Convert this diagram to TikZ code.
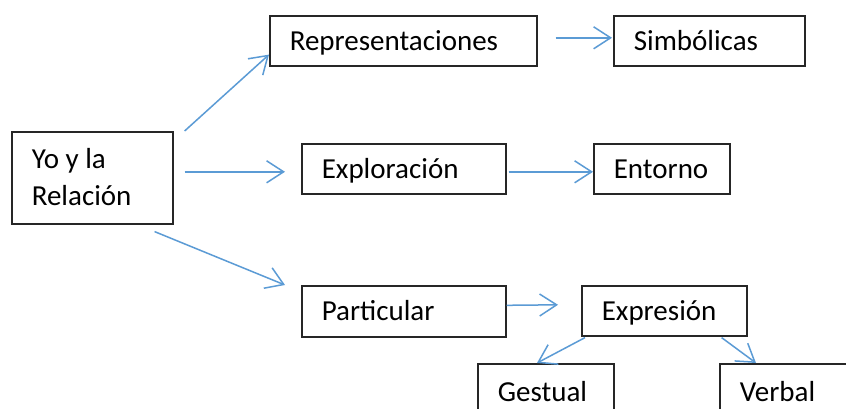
\documentclass[tikz,border=0pt]{standalone}
\usepackage{fontspec}
\setmainfont{Carlito}
\usetikzlibrary{arrows.meta,calc}
\definecolor{arrowblue}{HTML}{5B9BD5}
\begin{document}
\begin{tikzpicture}[x=1pt,y=-1pt,
  box/.style={draw=black!85, line width=1.6pt, anchor=north west, inner xsep=20pt, inner ysep=0pt,
    align=left, font=\fontsize{29}{37}\selectfont, text height=18.5pt, text depth=0pt},
  link/.style={draw=arrowblue, line width=1.5pt,
    -{Straight Barb[length=17pt,width=22pt,line width=1.5pt]}}]
\useasboundingbox (0,0) rectangle (846,408);
\clip (0,0) rectangle (846,408);
\fill[white] (0,0) rectangle (846,408);

\node[box, text width=121pt, minimum height=92pt, text depth=37pt] (yo) at (11,131) {\spaceskip=0pt\relax Yo y la\\Relación};
\node[box, text width=227pt, minimum height=50pt] (rep) at (269,15) {Representaciones};
\node[box, text width=151pt, minimum height=50pt] (sim) at (613,15) {Simbólicas};
\node[box, text width=164pt, minimum height=50pt] (exp) at (301,143) {Exploración};
\node[box, text width=96pt, minimum height=50pt] (ent) at (593,143) {Entorno};
\node[box, text width=164pt, minimum height=51pt] (par) at (301,285) {Particular};
\node[box, text width=125pt, minimum height=50pt] (expr) at (581,285) {Expresión};
\node[box, text width=96pt, minimum height=56pt] (ges) at (477,363) {Gestual};
\node[box, text width=100pt, minimum height=56pt] (ver) at (719,363) {Verbal};

\draw[link] ($(yo.north east)+(11,0)$) -- ($(rep.south west)+(0,-12)$);
\draw[link] ($(yo.east)+(11,-6)$) -- ($(exp.west)+(-16,3)$);
\draw[link] ($(yo.south east)+(-19,7)$) -- ($(par.north west)+(-16,0)$);
\draw[link] ($(rep.east)+(18,-3)$) -- ($(sim.west)+(-1,-3)$);
\draw[link] ($(exp.east)+(2,3)$) -- ($(ent.west)+(0,3)$);
\draw[link] ($(par.east)+(0,-6)$) -- ($(expr.west)+(-23,-6)$);
\draw[link] ($(expr.south west)+(4,1)$) -- ($(ges.north west)+(60,0)$);
\draw[link] ($(expr.south east)+(-26,1)$) -- ($(ver.north west)+(37,0)$);
\end{tikzpicture}
\end{document}
